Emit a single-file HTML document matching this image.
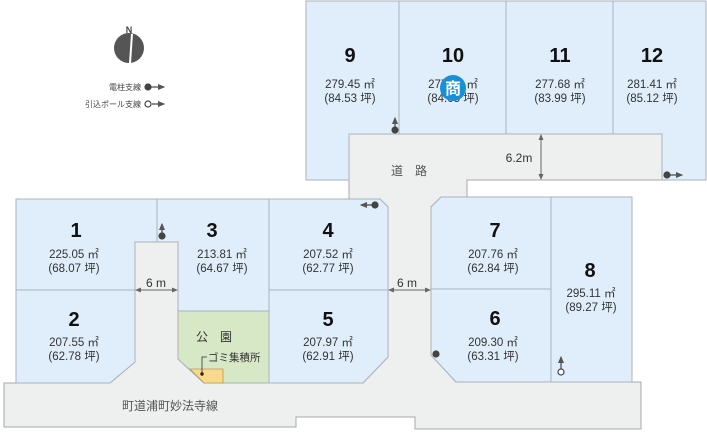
<!DOCTYPE html>
<html><head><meta charset="utf-8"><style>
html,body{margin:0;padding:0;background:#fff;}
svg{display:block;font-family:"Liberation Sans","Noto Sans CJK JP",sans-serif;}
.n{font-size:20px;font-weight:bold;fill:#111;text-anchor:middle;}
.a{font-size:11.5px;fill:#333;text-anchor:middle;}
</style></head><body>
<svg width="707" height="432" viewBox="0 0 707 432" xmlns="http://www.w3.org/2000/svg">
<defs><marker id="ah" markerWidth="6" markerHeight="6" refX="5" refY="3" orient="auto"><path d="M0,0.5 L6,3 L0,5.5z" fill="#555"/></marker>
<marker id="ah2" markerWidth="6" markerHeight="6" refX="5" refY="3" orient="auto-start-reverse"><path d="M0,0.5 L6,3 L0,5.5z" fill="#666"/></marker></defs>
<!-- road -->
<path d="M349,134 L662,134 L662,180 L467,180 L467,197 L441,197 L431,207 L431,355 L456,382 L641,382 L641,429 L415,429 L415,417 L296,417 L296,427 L4,427 L4,383 L110,383 L135,362 L135,242 L178,242 L178,359 L204,383 L363,383 L388,357 L388,207 L380,199 L349,199 Z" fill="#eeefef" stroke="#aaa" stroke-width="1"/>
<g fill="#dfeefa" stroke="#a9b3bb" stroke-width="1">
<path d="M306,1 L706,1 L706,180 L662,180 L662,134 L349,134 L349,180 L306,180 Z"/>
<line x1="399" y1="1" x2="399" y2="134"/><line x1="506" y1="1" x2="506" y2="134"/><line x1="613" y1="1" x2="613" y2="134"/>
<path d="M16,199 L157,199 L157,242 L135,242 L135,290 L16,290 Z"/>
<path d="M16,290 L135,290 L135,362 L110,383 L16,383 Z"/>
<path d="M157,199 L269,199 L269,311 L178,311 L178,242 L157,242 Z"/>
<path d="M269,199 L380,199 L388,207 L388,290 L269,290 Z"/>
<path d="M269,290 L388,290 L388,357 L363,383 L269,383 Z"/>
<path d="M441,197 L551,197 L551,289 L431,289 L431,207 Z"/>
<path d="M431,289 L551,289 L551,382 L456,382 L431,355 Z"/>
<rect x="551" y="197" width="81" height="185"/>
</g>
<path d="M178,311 L269,311 L269,383 L204,383 L178,359 Z" fill="#d7e8c7" stroke="#a9b3bb"/>
<path d="M190,369 L223,369 L223,383 L204,383 Z" fill="#fbd98a" stroke="#b59a5a" stroke-width="0.8"/>
<text x="214" y="341" font-size="12" fill="#333" text-anchor="middle">公　園</text>
<text x="208" y="361" font-size="10.5" fill="#333">ゴミ集積所</text>
<path d="M207,357 L202,357 L202,374" stroke="#333" fill="none" stroke-width="0.8"/><circle cx="202" cy="374" r="1.7" fill="#222"/>
<text class="n" x="350" y="62">9</text><text class="a" x="350" y="88">279.45 ㎡</text><text class="a" x="350" y="102">(84.53 坪)</text>
<text class="n" x="453" y="62">10</text><text class="a" x="453" y="88">277.85 ㎡</text><text class="a" x="453" y="102">(84.05 坪)</text>
<text class="n" x="560" y="62">11</text><text class="a" x="560" y="88">277.68 ㎡</text><text class="a" x="560" y="102">(83.99 坪)</text>
<text class="n" x="652" y="62">12</text><text class="a" x="652" y="88">281.41 ㎡</text><text class="a" x="652" y="102">(85.12 坪)</text>
<circle cx="453" cy="88" r="13" fill="#1a8fd6"/><text x="453" y="94" font-size="16" font-weight="bold" fill="#fff" text-anchor="middle">商</text>
<text class="n" x="76" y="237">1</text><text class="a" x="74" y="258">225.05 ㎡</text><text class="a" x="74" y="272">(68.07 坪)</text>
<text class="n" x="212" y="237">3</text><text class="a" x="222" y="258">213.81 ㎡</text><text class="a" x="222" y="272">(64.67 坪)</text>
<text class="n" x="328" y="237">4</text><text class="a" x="328" y="258">207.52 ㎡</text><text class="a" x="328" y="272">(62.77 坪)</text>
<text class="n" x="74" y="326">2</text><text class="a" x="74" y="346">207.55 ㎡</text><text class="a" x="74" y="360">(62.78 坪)</text>
<text class="n" x="328" y="326">5</text><text class="a" x="328" y="346">207.97 ㎡</text><text class="a" x="328" y="360">(62.91 坪)</text>
<text class="n" x="495" y="237">7</text><text class="a" x="493" y="258">207.76 ㎡</text><text class="a" x="493" y="272">(62.84 坪)</text>
<text class="n" x="495" y="325">6</text><text class="a" x="493" y="346">209.30 ㎡</text><text class="a" x="493" y="360">(63.31 坪)</text>
<text class="n" x="590" y="277">8</text><text class="a" x="591" y="297">295.11 ㎡</text><text class="a" x="591" y="311">(89.27 坪)</text>
<text x="409" y="175" font-size="12" fill="#555" text-anchor="middle">道　路</text>
<text x="519" y="162" font-size="12" fill="#333" text-anchor="middle">6.2m</text>
<line x1="541" y1="135" x2="541" y2="179" stroke="#666" marker-start="url(#ah2)" marker-end="url(#ah2)"/>
<text x="156" y="287" font-size="12" fill="#333" text-anchor="middle">6 m</text>
<line x1="136" y1="290" x2="177" y2="290" stroke="#666" marker-start="url(#ah2)" marker-end="url(#ah2)"/>
<text x="407" y="287" font-size="12" fill="#333" text-anchor="middle">6 m</text>
<line x1="389" y1="290" x2="430" y2="290" stroke="#666" marker-start="url(#ah2)" marker-end="url(#ah2)"/>
<text x="170" y="410" font-size="12" fill="#555" text-anchor="middle">町道浦町妙法寺線</text>
<g stroke="#444" stroke-width="1.2" fill="#444">
<line x1="395" y1="130" x2="395" y2="118" marker-end="url(#ah)"/><circle cx="395" cy="130" r="3"/>
<line x1="162" y1="236" x2="162" y2="224" marker-end="url(#ah)"/><circle cx="162" cy="236" r="3"/>
<line x1="667" y1="175" x2="682" y2="175" marker-end="url(#ah)"/><circle cx="667" cy="175" r="3"/>
<line x1="375" y1="205" x2="361" y2="205" marker-end="url(#ah)"/><circle cx="375" cy="205" r="3"/>
<circle cx="436" cy="354" r="3"/>
<line x1="561" y1="369" x2="561" y2="357" marker-end="url(#ah)"/><circle cx="561" cy="372" r="3" fill="#fff"/>
<line x1="148" y1="87" x2="164" y2="87" marker-end="url(#ah)"/><circle cx="148" cy="87" r="3"/>
<line x1="152" y1="104" x2="164" y2="104" marker-end="url(#ah)"/><circle cx="148" cy="104" r="3" fill="#fff"/>
</g>
<text x="141" y="90" font-size="8" fill="#444" text-anchor="end">電柱支線</text>
<text x="141" y="107" font-size="8" fill="#444" text-anchor="end">引込ポール支線</text>
<text x="129" y="33" font-size="9" font-weight="bold" fill="#444" text-anchor="middle">N</text>
<circle cx="129" cy="48" r="15" fill="#555"/>
<path d="M131,34 L133,34 L131,63 L129,63 Z" fill="#fff"/>
</svg>
</body></html>
